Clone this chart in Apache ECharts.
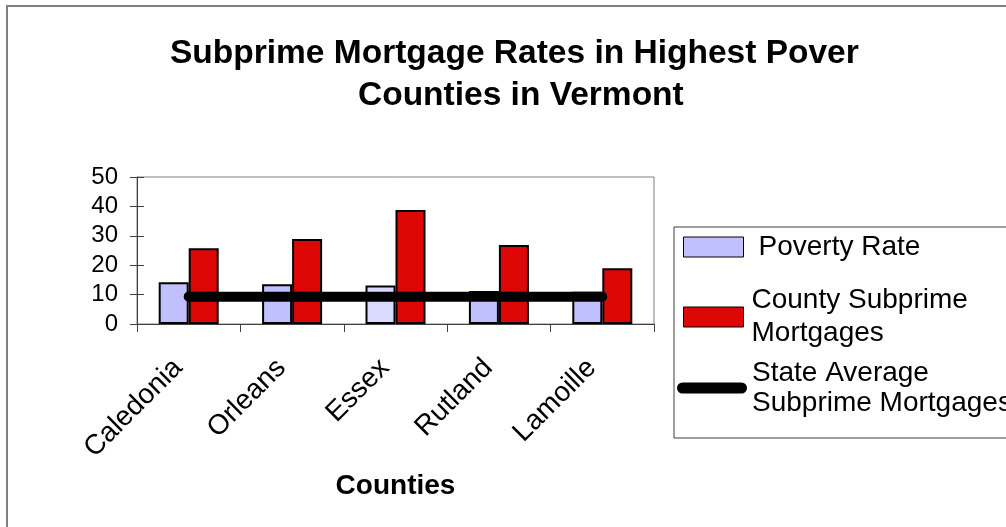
<!DOCTYPE html>
<html>
<head>
<meta charset="utf-8">
<script src="https://cdn.jsdelivr.net/npm/echarts@6/dist/echarts.min.js"></script>
<style>
  html, body { margin: 0; padding: 0; background: #fff; }
  #main { width: 1006px; height: 527px; }
</style>
</head>
<body>
<div id="main"></div>
<script>
// data
var counties = ['Caledonia', 'Orleans', 'Essex', 'Rutland', 'Lamoille'];
var povertyRate = [14.2, 13.5, 13.1, 11.2, 11.0];
var countySubprime = [25.8, 28.9, 38.8, 26.9, 19.0];
var stateAverage = [9.3, 9.3, 9.3, 9.3, 9.3];
var yTicks = [0, 10, 20, 30, 40, 50];

var FONT = '"Liberation Sans", Arial, sans-serif';
var chart = echarts.init(document.getElementById('main'));

// Essex poverty bar is drawn lighter in the original
var povertyData = povertyRate.map(function (v, i) {
    if (counties[i] == 'Essex') {
        return { value: v, itemStyle: { color: '#DADAFF' } };
    }
    return v;
});

var option = {
    animation: false,
    backgroundColor: '#fff',
    textStyle: { fontFamily: FONT },
    title: [
        {
            text: 'Subprime Mortgage Rates in Highest Pover',
            left: 170, top: 37, padding: 0,
            textStyle: { fontFamily: FONT, fontSize: 33.5, fontWeight: 'bold', color: '#000' }
        },
        {
            text: 'Counties in Vermont',
            left: 358, top: 79, padding: 0,
            textStyle: { fontFamily: FONT, fontSize: 33.5, fontWeight: 'bold', color: '#000' }
        }
    ],
    legend: [
        {
            data: [{ name: 'Poverty Rate', icon: 'rect' }],
            left: 683, top: 232, padding: 0,
            itemWidth: 60, itemHeight: 20,
            itemStyle: { borderColor: '#000', borderWidth: 1 },
            selectedMode: false,
            textStyle: { fontFamily: FONT, fontSize: 28, color: '#000', lineHeight: 30, padding: [0, 0, 0, 10] }
        },
        {
            data: [{ name: 'County Subprime Mortgages', icon: 'rect' }],
            left: 683, top: 267.5, padding: 0,
            itemWidth: 60, itemHeight: 20,
            itemStyle: { borderColor: '#000', borderWidth: 1 },
            selectedMode: false,
            formatter: function () { return 'County Subprime\nMortgages'; },
            textStyle: { fontFamily: FONT, fontSize: 28, color: '#000', lineHeight: 33, padding: [33, 0, 0, 3] }
        },
        {
            data: [{
                name: 'State Average Subprime Mortgages',
                icon: 'path://M5.5,0 L64.5,0 A5.5,5.5 0 0 1 64.5,11 L5.5,11 A5.5,5.5 0 0 1 5.5,0 Z'
            }],
            left: 677, top: 343, padding: 0,
            itemWidth: 70, itemHeight: 11,
            selectedMode: false,
            formatter: function () { return 'State Average\nSubprime Mortgages'; },
            textStyle: { fontFamily: FONT, fontSize: 28, color: '#000', lineHeight: 30, padding: [30, 0, 0, 0] }
        }
    ],
    grid: {
        left: 137, right: 352, top: 177, bottom: 203,
        show: true, borderColor: '#808080', borderWidth: 1,
        containLabel: false
    },
    xAxis: {
        type: 'category',
        data: counties,
        name: 'Counties',
        nameLocation: 'middle',
        nameGap: 148,
        nameTextStyle: { fontFamily: FONT, fontSize: 28, fontWeight: 'bold', color: '#000' },
        axisLine: { lineStyle: { color: '#404040', width: 1 } },
        axisTick: { show: true, length: 8, alignWithLabel: false, lineStyle: { color: '#404040' } },
        axisLabel: { interval: 0, rotate: 45, margin: 29, padding: [0, 15, 0, 0], fontFamily: FONT, fontSize: 28, color: '#000' },
        splitLine: { show: false }
    },
    yAxis: [
        {
            type: 'value',
            position: 'left',
            min: yTicks[0], max: yTicks[yTicks.length - 1], interval: 10,
            axisLine: { show: true, lineStyle: { color: '#404040', width: 1 } },
            axisTick: { show: true, length: 7, lineStyle: { color: '#404040' } },
            axisLabel: { margin: 19, fontFamily: FONT, fontSize: 24, color: '#000' },
            splitLine: { show: false }
        },
        {
            // second axis only for the inner half of the crossing ticks
            type: 'value',
            position: 'left',
            min: yTicks[0], max: yTicks[yTicks.length - 1], interval: 10,
            axisLine: { show: false },
            axisTick: { show: true, inside: true, length: 7, lineStyle: { color: '#404040' } },
            axisLabel: { show: false },
            splitLine: { show: false }
        }
    ],
    series: [
        {
            name: 'Poverty Rate',
            type: 'bar',
            data: povertyData,
            barWidth: 30,
            barGap: '0%',
            itemStyle: { color: '#C0C0FF', borderColor: '#000', borderWidth: 2 }
        },
        {
            name: 'County Subprime Mortgages',
            type: 'bar',
            data: countySubprime,
            barWidth: 30,
            barGap: '0%',
            itemStyle: { color: '#DD0806', borderColor: '#000', borderWidth: 2 }
        },
        {
            name: 'State Average Subprime Mortgages',
            type: 'line',
            data: stateAverage,
            z: 5,
            symbol: 'none',
            itemStyle: { color: '#000' },
            lineStyle: { color: '#000', width: 10, cap: 'round' }
        }
    ],
    graphic: [
        {
            type: 'rect',
            shape: { x: 7, y: 6, width: 1100, height: 600 },
            style: { fill: null, stroke: '#808080', lineWidth: 2 },
            silent: true, z: -1
        },
        {
            type: 'rect',
            shape: { x: 674, y: 227, width: 400, height: 211 },
            style: { fill: null, stroke: '#404040', lineWidth: 1 },
            silent: true, z: -1
        }
    ]
};

chart.setOption(option);
</script>
</body>
</html>
